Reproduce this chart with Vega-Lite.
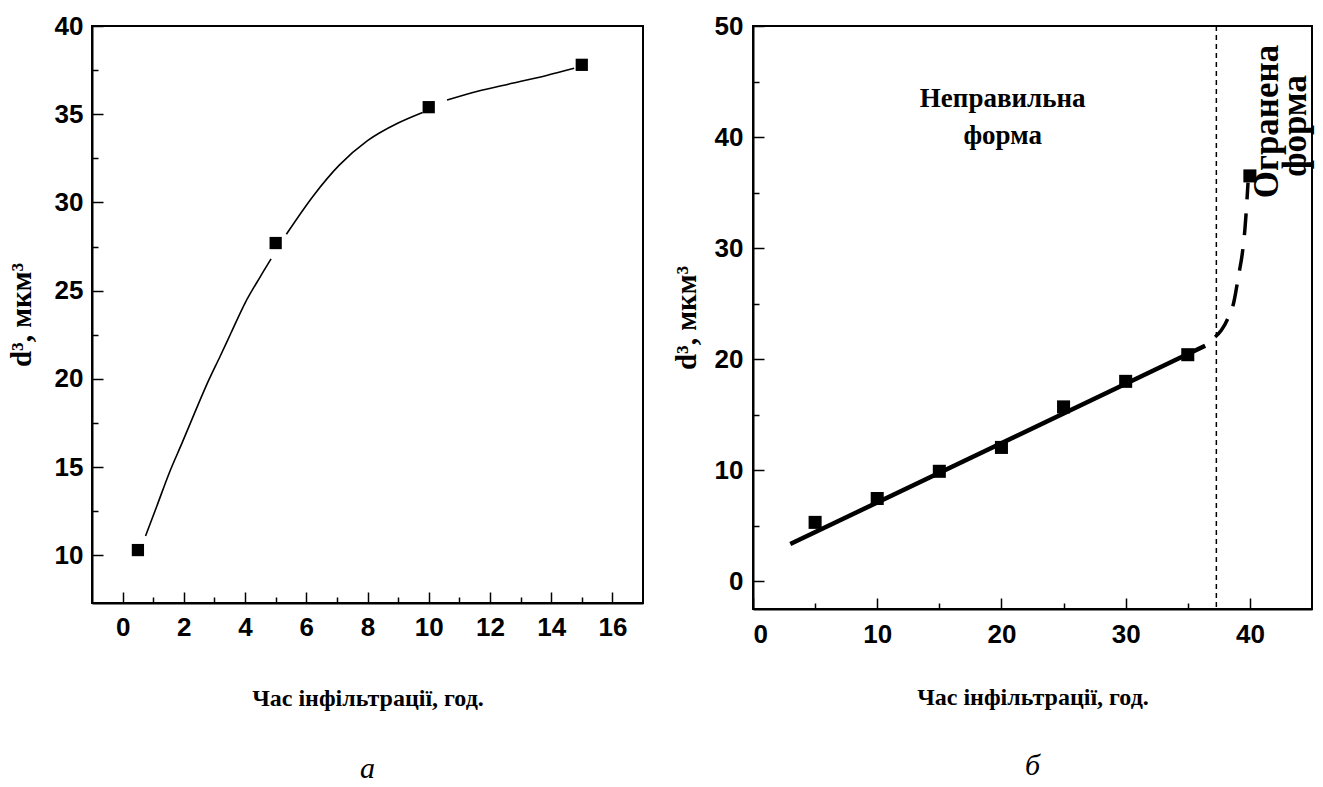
{
  "$schema": "https://vega.github.io/schema/vega-lite/v6.json",
  "background": "white",
  "padding": {"left": 6, "top": 12, "right": 4, "bottom": 0},
  "config": {
    "view": {"stroke": "black", "strokeWidth": 2},
    "axis": {
      "grid": false,
      "domainColor": "black",
      "domainWidth": 2,
      "tickColor": "black",
      "tickWidth": 1.5,
      "labelColor": "black",
      "labelFont": "Liberation Sans",
      "labelFontWeight": "bold",
      "labelFontSize": 26,
      "titleFont": "Liberation Serif",
      "titleFontWeight": "bold",
      "titleFontSize": 24,
      "titleColor": "black"
    },
    "title": {"font": "Liberation Serif", "fontStyle": "italic", "fontWeight": "normal", "fontSize": 30, "color": "black"}
  },
  "datasets": {
    "pointsA": [
      {"t": 0.5, "d3": 10.3},
      {"t": 5, "d3": 27.7},
      {"t": 10, "d3": 35.4},
      {"t": 15, "d3": 37.8}
    ],
    "curveA": [
      {"seg": 1, "t": 0.75, "d3": 11.1},
      {"seg": 1, "t": 1.12, "d3": 12.8},
      {"seg": 1, "t": 1.53, "d3": 14.7},
      {"seg": 1, "t": 1.95, "d3": 16.4},
      {"seg": 1, "t": 2.36, "d3": 18.1},
      {"seg": 1, "t": 2.78, "d3": 19.8},
      {"seg": 1, "t": 3.19, "d3": 21.3},
      {"seg": 1, "t": 3.54, "d3": 22.6},
      {"seg": 1, "t": 4.0, "d3": 24.3},
      {"seg": 1, "t": 4.5, "d3": 25.8},
      {"seg": 1, "t": 4.85, "d3": 26.8},
      {"seg": 2, "t": 5.35, "d3": 28.2},
      {"seg": 2, "t": 6.24, "d3": 30.4},
      {"seg": 2, "t": 7.07, "d3": 32.1},
      {"seg": 2, "t": 8.0, "d3": 33.5},
      {"seg": 2, "t": 9.0, "d3": 34.5},
      {"seg": 2, "t": 9.8, "d3": 35.1},
      {"seg": 3, "t": 10.6, "d3": 35.8},
      {"seg": 3, "t": 11.6, "d3": 36.3},
      {"seg": 3, "t": 12.6, "d3": 36.7},
      {"seg": 3, "t": 13.85, "d3": 37.2},
      {"seg": 3, "t": 14.75, "d3": 37.6}
    ],
    "pointsB": [
      {"t": 5, "d3": 5.3},
      {"t": 10, "d3": 7.45},
      {"t": 15, "d3": 9.9},
      {"t": 20, "d3": 12.05},
      {"t": 25, "d3": 15.7},
      {"t": 30, "d3": 18.0},
      {"t": 35, "d3": 20.4},
      {"t": 40, "d3": 36.5}
    ],
    "fitB": [
      {"t": 3, "d3": 3.35},
      {"t": 36.4, "d3": 21.2}
    ],
    "curveB": [
      {"t": 37.2, "d3": 22.0},
      {"t": 37.7, "d3": 22.6},
      {"t": 38.2, "d3": 23.6},
      {"t": 38.7, "d3": 25.1},
      {"t": 39.1, "d3": 27.6},
      {"t": 39.4, "d3": 29.6},
      {"t": 39.6, "d3": 31.7},
      {"t": 39.85, "d3": 35.9}
    ]
  },
  "spacing": 27,
  "hconcat": [
    {
      "width": 551,
      "height": 577,
      "title": {"text": "а", "orient": "bottom", "anchor": "middle", "frame": "group", "offset": 44},
      "encoding": {
        "x": {
          "field": "t",
          "type": "quantitative",
          "scale": {"domain": [-1, 17], "nice": false, "zero": false},
          "axis": {
            "title": "Час інфільтрації, год.",
            "values": [0, 1, 2, 3, 4, 5, 6, 7, 8, 9, 10, 11, 12, 13, 14, 15, 16],
            "labelExpr": "datum.value % 2 === 0 ? datum.label : ''",
            "tickSize": {"condition": {"test": "datum.value % 2 === 0", "value": -11}, "value": -6},
            "labelPadding": 22,
            "titlePadding": 46
          }
        },
        "y": {
          "field": "d3",
          "type": "quantitative",
          "scale": {"domain": [7.3, 40], "nice": false, "zero": false},
          "axis": {
            "title": "d³, мкм³",
            "titleFontSize": 29,
            "values": [10, 12.5, 15, 17.5, 20, 22.5, 25, 27.5, 30, 32.5, 35, 37.5, 40],
            "labelExpr": "datum.value % 5 === 0 ? datum.label : ''",
            "tickSize": {"condition": {"test": "datum.value % 5 === 0", "value": -11}, "value": -6},
            "labelPadding": 20,
            "titlePadding": 18
          }
        }
      },
      "layer": [
        {
          "data": {"name": "curveA"},
          "mark": {"type": "line", "color": "black", "strokeWidth": 1.6, "interpolate": "monotone"},
          "encoding": {"detail": {"field": "seg"}}
        },
        {
          "data": {"name": "pointsA"},
          "mark": {"type": "point", "shape": "square", "filled": true, "color": "black", "opacity": 1, "size": 150}
        }
      ]
    },
    {
      "width": 559,
      "height": 583,
      "title": {"text": "б", "orient": "bottom", "anchor": "middle", "frame": "group", "offset": 42},
      "layer": [
        {
          "data": {"values": [{}]},
          "mark": {"type": "rule", "color": "black", "strokeWidth": 1.5, "strokeDash": [5, 4]},
          "encoding": {
            "x": {
              "datum": 37.3,
              "type": "quantitative",
              "scale": {"domain": [0, 45], "nice": false, "zero": false},
              "axis": {
                "title": "Час інфільтрації, год.",
                "values": [0, 5, 10, 15, 20, 25, 30, 35, 40],
                "labelExpr": "datum.value % 10 === 0 ? datum.label : ''",
                "tickSize": {"condition": {"test": "datum.value % 10 === 0", "value": -11}, "value": -6},
                "labelPadding": 23,
                "titlePadding": 38
              }
            }
          }
        },
        {
          "data": {"name": "fitB"},
          "mark": {"type": "line", "color": "black", "strokeWidth": 4.5},
          "encoding": {
            "x": {"field": "t", "type": "quantitative"},
            "y": {
              "field": "d3",
              "type": "quantitative",
              "scale": {"domain": [-2.5, 50], "nice": false, "zero": false},
              "axis": {
                "title": "d³, мкм³",
                "titleFontSize": 29,
                "values": [0, 5, 10, 15, 20, 25, 30, 35, 40, 45, 50],
                "labelExpr": "datum.value % 10 === 0 ? datum.label : ''",
                "tickSize": {"condition": {"test": "datum.value % 10 === 0", "value": -11}, "value": -6},
                "labelPadding": 21,
                "titlePadding": 13
              }
            }
          }
        },
        {
          "data": {"name": "curveB"},
          "mark": {"type": "line", "color": "black", "strokeWidth": 3.5, "strokeDash": [22, 14], "interpolate": "monotone"},
          "encoding": {
            "x": {"field": "t", "type": "quantitative"},
            "y": {"field": "d3", "type": "quantitative"}
          }
        },
        {
          "data": {"name": "pointsB"},
          "mark": {"type": "point", "shape": "square", "filled": true, "color": "black", "opacity": 1, "size": 170},
          "encoding": {
            "x": {"field": "t", "type": "quantitative"},
            "y": {"field": "d3", "type": "quantitative"}
          }
        },
        {
          "data": {"values": [{}]},
          "mark": {"type": "text", "text": ["Неправильна", "форма"], "font": "Liberation Serif", "fontWeight": "bold", "fontSize": 27, "lineHeight": 37, "align": "center", "baseline": "top", "color": "black"},
          "encoding": {
            "x": {"datum": 20.1, "type": "quantitative"},
            "y": {"datum": 44.6, "type": "quantitative"}
          }
        },
        {
          "data": {"values": [{}]},
          "mark": {"type": "text", "text": "Огранена", "font": "Liberation Serif", "fontWeight": "bold", "fontSize": 35, "angle": 270, "align": "center", "baseline": "middle", "color": "black"},
          "encoding": {
            "x": {"datum": 41.4, "type": "quantitative"},
            "y": {"datum": 41.4, "type": "quantitative"}
          }
        },
        {
          "data": {"values": [{}]},
          "mark": {"type": "text", "text": "форма", "font": "Liberation Serif", "fontWeight": "bold", "fontSize": 35, "angle": 270, "align": "center", "baseline": "middle", "color": "black"},
          "encoding": {
            "x": {"datum": 43.6, "type": "quantitative"},
            "y": {"datum": 41.0, "type": "quantitative"}
          }
        }
      ]
    }
  ]
}
